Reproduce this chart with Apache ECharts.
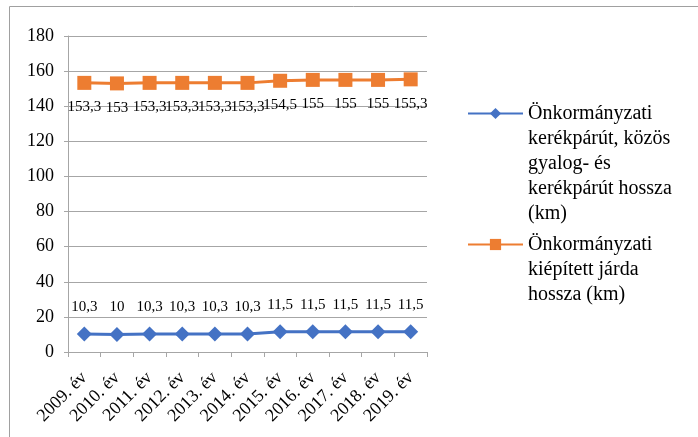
<!DOCTYPE html>
<html><head><meta charset="utf-8">
<script src="https://cdn.jsdelivr.net/npm/echarts@6/dist/echarts.min.js"></script>
<style>html,body{margin:0;padding:0;background:#fff}#c{width:698px;height:437px}</style>
</head><body><div id="c"></div>
<script>
const categories = ['2009. év','2010. év','2011. év','2012. év','2013. év','2014. év','2015. év','2016. év','2017. év','2018. év','2019. év'];
const bikeValues = [10.3,10,10.3,10.3,10.3,10.3,11.5,11.5,11.5,11.5,11.5];
const sidewalkValues = [153.3,153,153.3,153.3,153.3,153.3,154.5,155,155,155,155.3];
const yTicks = {min:0, max:180, interval:20};
const bikeName = 'Önkormányzati\nkerékpárút, közös\ngyalog- és\nkerékpárút hossza\n(km)';
const walkName = 'Önkormányzati\nkiépített járda\nhossza (km)';

const font = 'Liberation Serif';
const fmt = p => String(p.value).replace('.', ',');
// pad with leading empty lines so the first text line sits level with the legend icon
const topAlign = name => '\n'.repeat(name.split('\n').length - 1) + name;
const chart = echarts.init(document.getElementById('c'));
chart.setOption({
  animation:false,
  textStyle:{fontFamily:font},
  graphic:[
    {type:'line',shape:{x1:9.5,y1:6.5,x2:698,y2:6.5},style:{stroke:'#a0a0a0',lineWidth:1},silent:true},
    {type:'line',shape:{x1:9.5,y1:6.5,x2:9.5,y2:437},style:{stroke:'#a0a0a0',lineWidth:1},silent:true}
  ],
  grid:{left:68,right:271,top:36,bottom:85},
  legend:[
    {data:[bikeName], orient:'vertical', left:467, top:1, padding:0, itemWidth:55, itemHeight:14, itemGap:0,
     formatter:topAlign, textStyle:{fontFamily:font,fontSize:20,color:'#000',lineHeight:25}},
    {data:[walkName], orient:'vertical', left:467, top:182, padding:0, itemWidth:55, itemHeight:14, itemGap:0,
     formatter:topAlign, textStyle:{fontFamily:font,fontSize:20,color:'#000',lineHeight:25}}
  ],
  xAxis:{type:'category',data:categories,boundaryGap:true,
    axisLine:{lineStyle:{color:'#a6a6a6',width:1}},
    axisTick:{show:true,length:5,lineStyle:{color:'#a6a6a6'}},
    axisLabel:{rotate:45,fontSize:18,color:'#000',fontFamily:font,margin:23,interval:0}},
  yAxis:{type:'value',min:yTicks.min,max:yTicks.max,interval:yTicks.interval,
    axisLine:{show:true,lineStyle:{color:'#a6a6a6',width:1}},
    axisTick:{show:true,length:4,lineStyle:{color:'#a6a6a6'}},
    splitLine:{lineStyle:{color:'#a6a6a6',width:1}},
    axisLabel:{fontSize:18,color:'#000',fontFamily:font,margin:14}},
  series:[
    {name:bikeName,type:'line',data:bikeValues,symbol:'diamond',symbolSize:15,
     lineStyle:{color:'#4472C4',width:3},itemStyle:{color:'#4472C4'},
     label:{show:true,position:'top',distance:12,formatter:fmt,color:'#000',fontSize:15,fontFamily:font}},
    {name:walkName,type:'line',data:sidewalkValues,symbol:'rect',symbolSize:14,
     lineStyle:{color:'#ED7D31',width:3},itemStyle:{color:'#ED7D31'},
     label:{show:true,position:'bottom',distance:10,formatter:fmt,color:'#000',fontSize:15,fontFamily:font}}
  ]
});
</script></body></html>
